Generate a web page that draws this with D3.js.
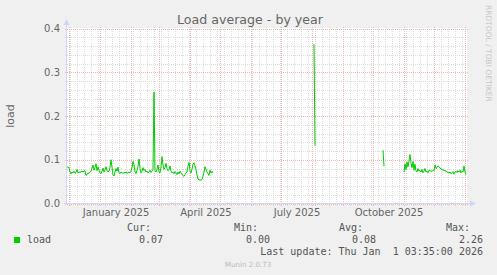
<!DOCTYPE html>
<html>
<head>
<meta charset="utf-8">
<script src="https://cdn.jsdelivr.net/npm/d3@7"></script>
<style>
  body { margin: 0; background: #f0f0f0; }
  text { font-family: "DejaVu Sans", sans-serif; fill: #666; }
  .mono { font-family: "DejaVu Sans Mono", monospace; font-size: 10px; fill: #555; }
</style>
</head>
<body>
<svg id="chart" width="497" height="275"></svg>
<script>
// ---- data ----
const title = "Load average - by year";
const yLabel = "load";
const yTicks = [0, 0.1, 0.2, 0.3, 0.4];
const xLabelMonths = ["2025-01-01", "2025-04-01", "2025-07-01", "2025-10-01"];
const legendHeaders = ["Cur:", "Min:", "Avg:", "Max:"];
const legendValues = ["0.07", "0.00", "0.08", "2.26"];
const lastUpdate = "Last update: Thu Jan  1 03:35:00 2026";

// daily averages, each segment starts on its date, one value per day
const segmentStarts = ["2024-11-28", "2025-08-02", "2025-10-10", "2025-10-31"];
const seg1 = [
  0.084, 0.083, 0.082, 0.072, 0.068, 0.072, 0.070, 0.074, 0.069, 0.071,
  0.078, 0.070, 0.072, 0.071, 0.073, 0.074, 0.072, 0.074, 0.075, 0.064,
  0.066, 0.070, 0.069, 0.072, 0.074, 0.081, 0.088, 0.076, 0.082, 0.091,
  0.075, 0.084, 0.076, 0.070, 0.068, 0.074, 0.081, 0.072, 0.077, 0.084,
  0.075, 0.072, 0.074, 0.082, 0.100, 0.083, 0.066, 0.063, 0.072, 0.080,
  0.074, 0.083, 0.070, 0.068, 0.072, 0.070, 0.069, 0.071, 0.070, 0.072,
  0.069, 0.070, 0.072, 0.070, 0.074, 0.082, 0.096, 0.088, 0.072, 0.068,
  0.076, 0.085, 0.102, 0.080, 0.070, 0.074, 0.082, 0.075, 0.078, 0.072,
  0.074, 0.070, 0.072, 0.076, 0.071, 0.074, 0.078, 0.255, 0.075, 0.072,
  0.078, 0.088, 0.072, 0.070, 0.084, 0.107, 0.088, 0.078, 0.082, 0.092,
  0.080, 0.075, 0.078, 0.086, 0.074, 0.070, 0.072, 0.068, 0.073, 0.070,
  0.066, 0.072, 0.068, 0.074, 0.070, 0.066, 0.064, 0.062, 0.066, 0.070,
  0.072, 0.085, 0.094, 0.075, 0.070, 0.078, 0.090, 0.093, 0.086, 0.078,
  0.066, 0.056, 0.054, 0.054, 0.053, 0.055, 0.062, 0.072, 0.084, 0.078,
  0.072, 0.068, 0.064, 0.076, 0.070, 0.074, 0.070
];
const seg2 = [0.364, 0.132];
const seg3 = [0.122, 0.085];
const seg4 = [
  0.072, 0.090, 0.078, 0.095, 0.084, 0.098, 0.112, 0.092, 0.082, 0.096,
  0.076, 0.090, 0.074, 0.072, 0.080, 0.074, 0.076, 0.072, 0.078, 0.070,
  0.074, 0.080, 0.072, 0.074, 0.070, 0.076, 0.074, 0.075, 0.073, 0.076,
  0.075, 0.088, 0.080, 0.082, 0.086, 0.084, 0.081, 0.079, 0.078, 0.076,
  0.077, 0.074, 0.075, 0.072, 0.071, 0.070, 0.072, 0.068, 0.070, 0.073,
  0.067, 0.072, 0.074, 0.071, 0.075, 0.072, 0.076, 0.070, 0.074, 0.072,
  0.086, 0.072, 0.066
];
const segments = [seg1, seg2, seg3, seg4];

// ---- layout ----
const svg = d3.select("#chart");
const plot = { left: 67, right: 467, top: 28.5, bottom: 203.5 };
const DAY = 864e5;
const t0 = new Date("2024-11-28T16:48:00Z");
const t1 = new Date(+t0 + 400 * DAY);

const x = d3.scaleUtc().domain([t0, t1]).range([plot.left, plot.right]);
const y = d3.scaleLinear().domain([0, 0.4]).range([plot.bottom, plot.top]);
const px = v => Math.round(v) + 0.5;

const minorCol = "#dcdcdc", majorCol = "#efb4b4", axisCol = "#CFD6F8";

// canvas
svg.append("rect")
  .attr("x", plot.left).attr("y", plot.top - 0.5)
  .attr("width", plot.right - plot.left).attr("height", plot.bottom - plot.top + 0.5)
  .attr("fill", "#fff");

const grid = svg.append("g").attr("shape-rendering", "crispEdges");

// horizontal minor grid (0.02)
const yMinor = d3.range(0, 0.4001, 0.02).filter(v => Math.abs(v * 10 - Math.round(v * 10)) > 1e-6);
grid.selectAll(".hmin").data(yMinor).enter().append("line")
  .attr("x1", plot.left - 2).attr("x2", plot.right + 2)
  .attr("y1", d => px(y(d))).attr("y2", d => px(y(d)))
  .attr("stroke", minorCol).attr("stroke-dasharray", "1,1");

// vertical minor grid (weeks)
const weeks = d3.utcMonday.range(t0, t1);
grid.selectAll(".vmin").data(weeks).enter().append("line")
  .attr("x1", d => px(x(d))).attr("x2", d => px(x(d)))
  .attr("y1", plot.top - 2).attr("y2", plot.bottom + 2)
  .attr("stroke", minorCol).attr("stroke-dasharray", "1,1");

// horizontal major grid (0.1)
grid.selectAll(".hmaj").data(yTicks).enter().append("line")
  .attr("x1", plot.left - 2).attr("x2", plot.right + 2)
  .attr("y1", d => px(y(d))).attr("y2", d => px(y(d)))
  .attr("stroke", majorCol).attr("stroke-dasharray", "1,1");

// vertical major grid (months)
const months = d3.utcMonth.range(t0, t1);
grid.selectAll(".vmaj").data(months).enter().append("line")
  .attr("x1", d => px(x(d))).attr("x2", d => px(x(d)))
  .attr("y1", plot.top - 2).attr("y2", plot.bottom + 3)
  .attr("stroke", majorCol).attr("stroke-dasharray", "1,1");

// axes
grid.append("line")
  .attr("x1", plot.left - 0.5).attr("x2", plot.left - 0.5)
  .attr("y1", plot.bottom).attr("y2", 24)
  .attr("stroke", axisCol);
grid.append("line")
  .attr("x1", plot.left - 3).attr("x2", plot.right + 3)
  .attr("y1", plot.bottom).attr("y2", plot.bottom)
  .attr("stroke", axisCol);
svg.append("path")
  .attr("d", `M${plot.left - 3.5},25 L${plot.left + 2.5},25 L${plot.left - 0.5},19 Z`)
  .attr("fill", axisCol);
svg.append("path")
  .attr("d", `M${plot.right + 3},${plot.bottom - 3} L${plot.right + 3},${plot.bottom + 3} L${plot.right + 9},${plot.bottom} Z`)
  .attr("fill", axisCol);

// y tick labels
svg.selectAll(".ylab").data(yTicks).enter().append("text")
  .attr("x", 60).attr("y", d => y(d) + 3.6)
  .attr("text-anchor", "end").attr("font-size", 10)
  .text(d => d3.format(".1f")(d));

// x labels: quarters, centred half a month after the start
const quarters = xLabelMonths.map(s => new Date(s + "T00:00:00Z"));
svg.selectAll(".xlab").data(quarters).enter().append("text")
  .attr("x", d => x(new Date(+d + 15.7 * DAY)))
  .attr("y", 216)
  .attr("text-anchor", "middle").attr("font-size", 10)
  .text(d => d3.utcFormat("%B %Y")(d));

// data line
const line = d3.line()
  .x(d => x(d.date))
  .y(d => y(d.value));
segments.forEach((vals, s) => {
  const start = new Date(segmentStarts[s] + "T16:48:00Z");
  const pts = vals.map((v, i) => ({ date: new Date(+start + i * DAY), value: v }));
  svg.append("path")
    .datum(pts)
    .attr("d", line)
    .attr("fill", "none")
    .attr("stroke", "#00CC00")
    .attr("stroke-width", 1);
});

// title
svg.append("text")
  .attr("x", 250).attr("y", 24)
  .attr("text-anchor", "middle").attr("font-size", 12.6)
  .text(title);

// y axis label
svg.append("text")
  .attr("transform", "translate(14,116) rotate(-90)")
  .attr("text-anchor", "middle").attr("font-size", 11)
  .text(yLabel);

// rrdtool watermark
svg.append("text")
  .attr("transform", "translate(485.5,5) rotate(90)")
  .attr("text-anchor", "start").attr("font-size", 7.5)
  .style("fill", "#c8c8c8")
  .text("RRDTOOL / TOBI OETIKER");

// legend
svg.append("rect")
  .attr("x", 14).attr("y", 237).attr("width", 6).attr("height", 6)
  .attr("fill", "#00CC00");
svg.append("text").attr("class", "mono")
  .attr("x", 27).attr("y", 243).text("load");

const headerRight = [151, 258, 363, 470];
const valueRight = [163, 270, 376, 483];
svg.selectAll(".lh").data(legendHeaders).enter().append("text")
  .attr("class", "mono").attr("text-anchor", "end")
  .attr("x", (d, i) => headerRight[i]).attr("y", 231)
  .text(d => d);
svg.selectAll(".lv").data(legendValues).enter().append("text")
  .attr("class", "mono").attr("text-anchor", "end")
  .attr("x", (d, i) => valueRight[i]).attr("y", 243)
  .text(d => d);
svg.append("text").attr("class", "mono")
  .attr("text-anchor", "end").attr("x", 483).attr("y", 255)
  .style("white-space", "pre")
  .text(lastUpdate);

// munin footer
svg.append("text")
  .attr("x", 248).attr("y", 266.5)
  .attr("text-anchor", "middle").attr("font-size", 7.1)
  .style("fill", "#bbb")
  .text("Munin 2.0.73");
</script>
</body>
</html>
